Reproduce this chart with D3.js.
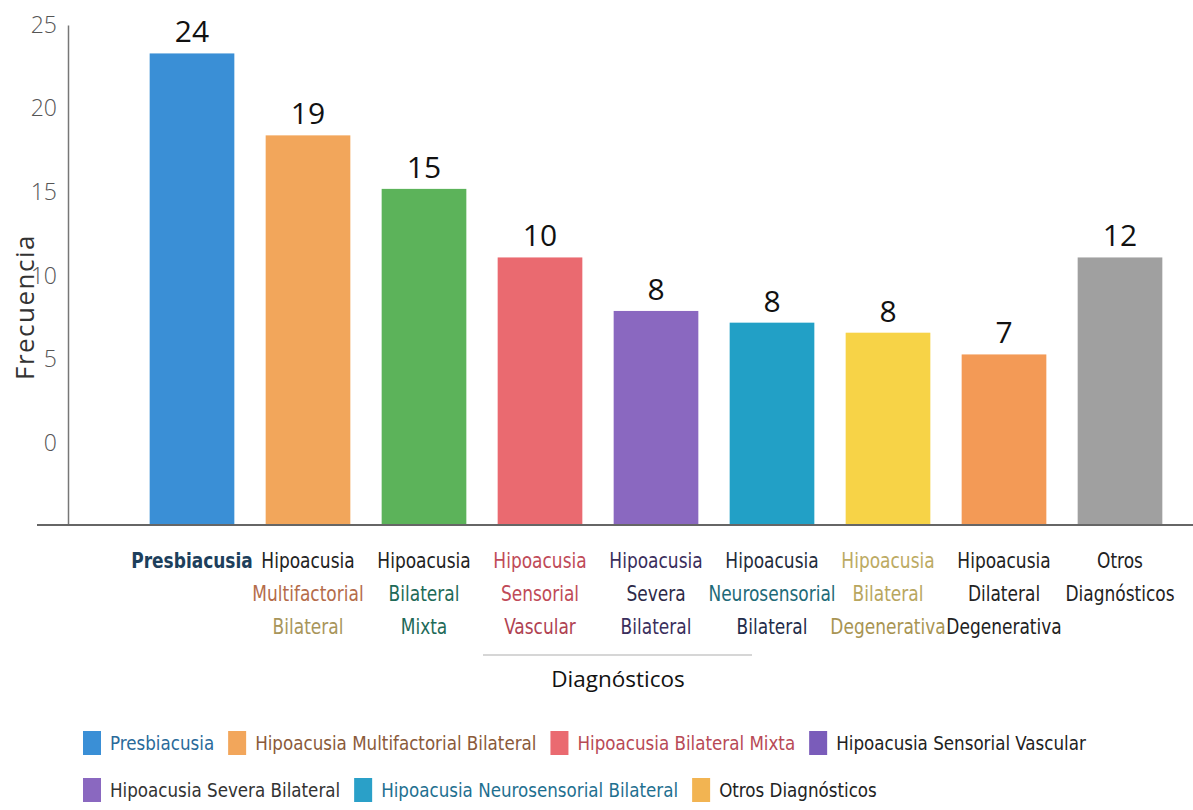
<!DOCTYPE html>
<html>
<head>
<meta charset="utf-8">
<script src="https://cdn.jsdelivr.net/npm/d3@7"></script>
<style>
  body { margin: 0; background: #fff; }
  svg { display: block; }
</style>
</head>
<body>
<div id="chart"></div>
<script>
// categories, printed values and bar heights (read against the y axis)
const categories = [
    "Presbiacusia",
    "Hipoacusia Multifactorial Bilateral",
    "Hipoacusia Bilateral Mixta",
    "Hipoacusia Sensorial Vascular",
    "Hipoacusia Severa Bilateral",
    "Hipoacusia Neurosensorial Bilateral",
    "Hipoacusia Bilateral Degenerativa",
    "Hipoacusia Dilateral Degenerativa",
    "Otros Diagnósticos"
];
const categoryLines = [
    ["Presbiacusia"],
    ["Hipoacusia", "Multifactorial", "Bilateral"],
    ["Hipoacusia", "Bilateral", "Mixta"],
    ["Hipoacusia", "Sensorial", "Vascular"],
    ["Hipoacusia", "Severa", "Bilateral"],
    ["Hipoacusia", "Neurosensorial", "Bilateral"],
    ["Hipoacusia", "Bilateral", "Degenerativa"],
    ["Hipoacusia", "Dilateral", "Degenerativa"],
    ["Otros", "Diagnósticos"]
];
const valueLabels = [24, 19, 15, 10, 8, 8, 8, 7, 12];
const barHeights = [23.3, 18.4, 15.2, 11.1, 7.9, 7.2, 6.6, 5.3, 11.1];
const yTicks = [0, 5, 10, 15, 20, 25];
const legendNames = [
    "Presbiacusia",
    "Hipoacusia Multifactorial Bilateral",
    "Hipoacusia Bilateral Mixta",
    "Hipoacusia Sensorial Vascular",
    "Hipoacusia Severa Bilateral",
    "Hipoacusia Neurosensorial Bilateral",
    "Otros Diagnósticos"
];
const legendRows = [[0, 1, 2, 3], [4, 5, 6]];

// styles
const barColors = ["#3a8fd6", "#f2a65b", "#5cb35a", "#ea6a70", "#8a68c0", "#22a0c6", "#f7d347", "#f39a56", "#a0a0a0"];
const lineColors = [
    ["#1d3f5c"],
    ["#222222", "#b56c4a", "#a8955a"],
    ["#222222", "#1e6a58", "#1e6a58"],
    ["#c04a58", "#c04a58", "#b04252"],
    ["#3a2e5c", "#2e2a48", "#3a2e5c"],
    ["#1f2c3c", "#1e6a78", "#1f2c4a"],
    ["#bcaa62", "#b8a65e", "#a89452"],
    ["#222222", "#222222", "#222222"],
    ["#222222", "#222222"]
];
const legendColors = ["#3a8fd6", "#f2a65b", "#ea6a70", "#7a5cba", "#8a68c0", "#2aa0c8", "#f2b452"];
const legendTextColors = ["#2a6a9a", "#8a5a3a", "#b84a56", "#222222", "#333333", "#1f7090", "#222222"];

const width = 1193, height = 810;
const narrow = "'DejaVu Sans Condensed', 'DejaVu Sans', sans-serif";
const plain = "'Open Sans', 'Noto Sans', sans-serif";
const squeeze = 0.86;
const legendSqueeze = 0.93;

const svg = d3.select("#chart").append("svg")
    .attr("width", width)
    .attr("height", height);

const x = d3.scaleBand()
    .domain(categories)
    .range([134, 1178])
    .paddingInner(0.27)
    .paddingOuter(0.135);

const y = d3.scaleLinear()
    .domain([-4.9, 25])
    .range([525, 25]);

// bars
svg.append("g")
    .selectAll("rect")
    .data(categories)
    .enter()
    .append("rect")
    .attr("x", d => x(d))
    .attr("width", x.bandwidth())
    .attr("y", (d, i) => y(barHeights[i]))
    .attr("height", (d, i) => y(y.domain()[0]) - y(barHeights[i]))
    .attr("fill", (d, i) => barColors[i]);

// value labels
svg.append("g")
    .selectAll("text")
    .data(categories)
    .enter()
    .append("text")
    .attr("x", d => x(d) + x.bandwidth() / 2)
    .attr("y", (d, i) => y(barHeights[i]) - 11)
    .attr("text-anchor", "middle")
    .style("font-family", plain)
    .style("font-size", "30px")
    .style("fill", "#111")
    .text((d, i) => valueLabels[i]);

// y axis
const yAxis = svg.append("g")
    .attr("transform", "translate(68,0)")
    .call(d3.axisLeft(y).tickValues(yTicks).tickSize(0).tickSizeOuter(0).tickPadding(11));
yAxis.select(".domain").attr("stroke", "#777").attr("stroke-width", 1.5);
yAxis.selectAll("text")
    .style("font-family", plain)
    .style("font-weight", 300)
    .style("font-size", "23px")
    .style("fill", "#555");

// baseline
svg.append("line")
    .attr("x1", 37).attr("x2", width)
    .attr("y1", y(y.domain()[0])).attr("y2", y(y.domain()[0]))
    .attr("stroke", "#666")
    .attr("stroke-width", 2);

svg.append("text")
    .attr("transform", "translate(34,307) rotate(-90)")
    .attr("text-anchor", "middle")
    .style("font-family", plain)
    .style("font-size", "26px")
    .style("letter-spacing", "1.5px")
    .style("fill", "#333")
    .text("Frecuencia");

// category labels (condensed face)
const catG = svg.append("g")
    .selectAll("text")
    .data(categories)
    .enter()
    .append("text")
    .attr("transform", d => `translate(${x(d) + x.bandwidth() / 2},0) scale(${squeeze},1)`)
    .attr("text-anchor", "middle")
    .style("font-family", narrow)
    .style("font-size", "22px");
catG.each(function (d, i) {
    const t = d3.select(this);
    categoryLines[i].forEach((line, j) => {
        t.append("tspan")
            .attr("x", 0)
            .attr("y", 568 + j * 33)
            .style("fill", lineColors[i][j])
            .style("font-weight", i === 0 ? "bold" : "normal")
            .text(line);
    });
});

// x title
svg.append("line")
    .attr("x1", 483).attr("x2", 752)
    .attr("y1", 655).attr("y2", 655)
    .attr("stroke", "#c8c8c8")
    .attr("stroke-width", 1.5);
svg.append("text")
    .attr("x", 618)
    .attr("y", 687)
    .attr("text-anchor", "middle")
    .style("font-family", plain)
    .style("font-size", "22.5px")
    .style("fill", "#111")
    .text("Diagnósticos");

// legend
const rowY = [743, 790];
legendRows.forEach((row, r) => {
    let cx = 83;
    row.forEach(idx => {
        const g = svg.append("g").attr("transform", `translate(${cx},${rowY[r]})`);
        g.append("rect")
            .attr("x", 0).attr("y", -12)
            .attr("width", 18).attr("height", 24)
            .attr("fill", legendColors[idx]);
        const t = g.append("text")
            .attr("transform", `translate(27,7) scale(${legendSqueeze},1)`)
            .style("font-family", narrow)
            .style("font-size", "20px")
            .style("fill", legendTextColors[idx])
            .text(legendNames[idx]);
        cx += 27 + t.node().getComputedTextLength() * legendSqueeze + 14;
    });
});
</script>
</body>
</html>
